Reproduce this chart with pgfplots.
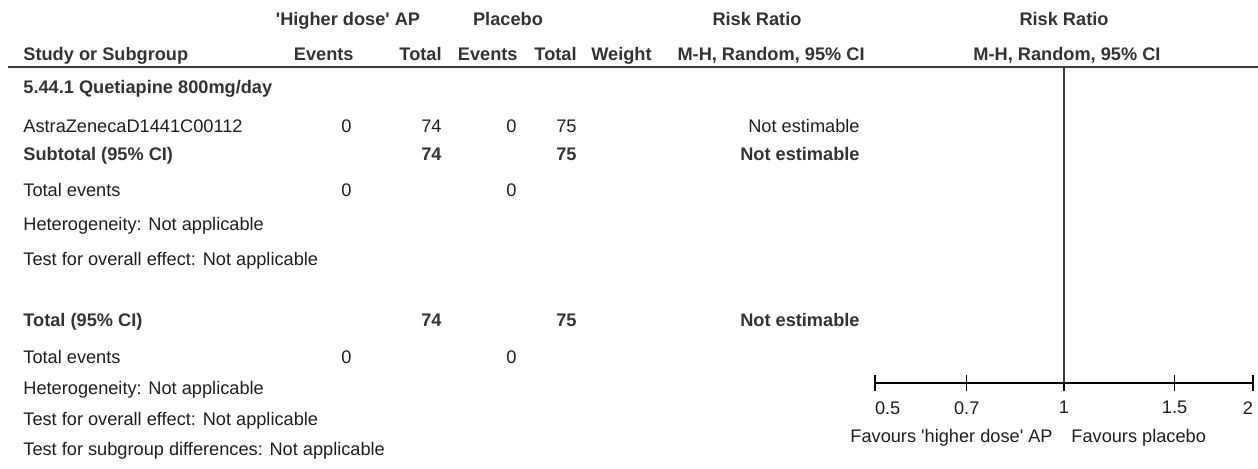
\documentclass[border=0pt]{standalone}
\usepackage{fontspec}
\setmainfont{Liberation Sans}
\usepackage{pgfplots}
\pgfplotsset{compat=1.18}
\definecolor{ink}{HTML}{1E1E1E}
\definecolor{head}{HTML}{333333}
\definecolor{rulec}{HTML}{3C3C3C}

\newcommand{\fs}{\fontsize{9.1}{10.9}\selectfont}
\newcommand{\q}{\textquotesingle}
\newcommand{\tl}[3]{\node[anchor=mid west] at (axis cs:#1,#2) {#3};}
\newcommand{\tr}[3]{\node[anchor=mid east] at (axis cs:#1,#2) {#3};}
\newcommand{\tc}[3]{\node[anchor=mid] at (axis cs:#1,#2) {#3};}

\begin{document}
\begin{tikzpicture}[font=\fs, text=ink, every node/.append style={inner sep=0pt}]
\useasboundingbox (0,0) rectangle (629pt,234pt);

% table part, in pixel units of the reference
\begin{axis}[at={(0,0)}, anchor=south west, width=629pt, height=234pt,
  scale only axis, xmin=0, xmax=1258, ymin=0, ymax=468, y dir=reverse,
  hide axis, clip=false]
  \begin{scope}[every node/.style={inner sep=0pt, text=head, font=\fs\bfseries}]
    \tc{348}{20}{\q Higher dose\q{} AP}
    \tc{508}{20}{Placebo}
    \tc{757}{20}{Risk Ratio}
    \tc{1064}{20}{Risk Ratio}
    \tl{23}{55}{Study or Subgroup}
    \tr{354}{55}{Events}
    \tr{442}{55}{Total}
    \tr{518}{55}{Events}
    \tr{577}{55}{Total}
    \tr{652}{55}{Weight}
    \tr{865}{55}{M-H, Random, 95\% CI}
    \tc{1067}{55}{M-H, Random, 95\% CI}
    \tl{23}{88}{5.44.1 Quetiapine 800mg/day}
    \tl{23}{155}{Subtotal (95\% CI)}
    \tr{442}{155}{74}
    \tr{577}{155}{75}
    \tr{860}{155}{Not estimable}
    \tl{23}{321}{Total (95\% CI)}
    \tr{442}{321}{74}
    \tr{577}{321}{75}
    \tr{860}{321}{Not estimable}
  \end{scope}
  \tl{23}{127}{AstraZenecaD1441C00112}
  \tr{352}{127}{0}
  \tr{442}{127}{74}
  \tr{517}{127}{0}
  \tr{577}{127}{75}
  \tr{860}{127}{Not estimable}
  \tl{23}{191}{Total events}
  \tr{352}{191}{0}
  \tr{517}{191}{0}
  \tl{23}{225}{Heterogeneity: Not applicable}
  \tl{23}{260}{Test for overall effect: Not applicable}
  \tl{23}{358}{Total events}
  \tr{352}{358}{0}
  \tr{517}{358}{0}
  \tl{23}{389}{Heterogeneity: Not applicable}
  \tl{23}{420}{Test for overall effect: Not applicable}
  \tl{23}{450}{Test for subgroup differences: Not applicable}
  \tr{1053}{437}{Favours \q higher dose\q{} AP}
  \tl{1071}{437}{Favours placebo}
  \draw[rulec, line width=1pt] (axis cs:8,67) -- (axis cs:1258,67);
\end{axis}

% forest scale, log risk ratio
\begin{axis}[at={(437.5pt,42.5pt)}, anchor=south west, width=189pt, height=158pt,
  scale only axis, xmode=log, xmin=0.5, xmax=2, ymin=0, ymax=1,
  axis x line=bottom, axis y line=none, clip=false,
  x axis line style={-, line width=0.75pt},
  xtick={0.5,0.7,1,1.5,2},
  xticklabels={\makebox[0pt][l]{0.5},0.7,1,1.5,\makebox[0pt][r]{2}},
  minor xtick={}, tick align=center, major tick length=8pt,
  every tick/.style={black, line width=0.75pt},
  xticklabel style={font=\fs, text=ink, yshift=-5pt},
  /pgf/number format/assume math mode=true]
  \addplot[rulec, line width=0.8pt] coordinates {(1,0) (1,1)};
\end{axis}
\end{tikzpicture}
\end{document}
